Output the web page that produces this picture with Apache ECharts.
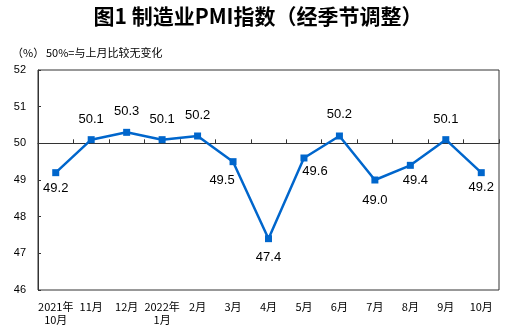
<!DOCTYPE html>
<html>
<head>
<meta charset="utf-8">
<script src="https://cdn.jsdelivr.net/npm/echarts@6/dist/echarts.min.js"></script>
<style>
html,body{margin:0;padding:0;background:#fff;}
#c{width:516px;height:326px;}
</style>
</head>
<body>
<div id="c"></div>
<script>
var categories = ['2021年\n10月','11月','12月','2022年\n1月','2月','3月','4月','5月','6月','7月','8月','9月','10月'];
var pmiValues = [49.2, 50.1, 50.3, 50.1, 50.2, 49.5, 47.4, 49.6, 50.2, 49.0, 49.4, 50.1, 49.2];
var yTicks = [46, 47, 48, 49, 50, 51, 52];
var labelPlacement = [
  ['bottom', 5.5, 0], ['top', 10, 0], ['top', 10.5, 0], ['top', 10, 0], ['top', 11, 0],
  ['bottom', 8.5, -11], ['bottom', 9, 0], ['bottom', 3.5, 11], ['top', 12, 0],
  ['bottom', 10, 0], ['bottom', 5, 5], ['top', 10.5, 0], ['bottom', 4.5, 0]
];

var chart = echarts.init(document.getElementById('c'), null, {renderer: 'canvas'});
var cjk = '"Noto Sans CJK SC", sans-serif';
var lat = '"Liberation Sans", Arial, sans-serif';

var seriesData = pmiValues.map(function (v, i) {
  var p = labelPlacement[i];
  return {value: v, label: {position: p[0], distance: p[1], offset: [p[2], 0]}};
});

chart.setOption({
  animation: false,
  backgroundColor: '#fff',
  title: {
    text: '图1 制造业PMI指数（经季节调整）',
    left: 'center',
    top: 1,
    textStyle: {fontFamily: cjk, fontSize: 21, fontWeight: 'bold', color: '#000'}
  },
  graphic: [
    {type: 'text', left: 12, top: 47, style: {text: '（%）', fontFamily: cjk, fontSize: 11, fill: '#000'}},
    {type: 'text', left: 46, top: 47, style: {text: '50%=与上月比较无变化', fontFamily: cjk, fontSize: 11, fill: '#000'}}
  ],
  grid: {left: 38, top: 70, right: 17, bottom: 36, show: true, borderColor: '#333', borderWidth: 1, backgroundColor: 'transparent'},
  xAxis: [
    {
      type: 'category', data: categories, position: 'bottom',
      axisLine: {show: false}, axisTick: {show: false},
      axisLabel: {interval: 0, margin: 10, fontFamily: cjk, fontSize: 11, lineHeight: 13, color: '#000'}
    },
    {
      type: 'category', data: categories, position: 'bottom', offset: -146.67,
      axisLine: {show: true, lineStyle: {color: '#333', width: 1}},
      axisTick: {show: true, inside: true, length: 4, interval: 0, lineStyle: {color: '#333'}},
      axisLabel: {show: false}
    }
  ],
  yAxis: {
    type: 'value', min: yTicks[0], max: yTicks[yTicks.length - 1], interval: 1,
    axisLine: {show: true, lineStyle: {color: '#333'}},
    axisTick: {show: true, inside: true, length: 3, lineStyle: {color: '#333'}},
    splitLine: {show: false},
    axisLabel: {margin: 12, fontFamily: lat, fontSize: 11, color: '#000'}
  },
  series: [{
    type: 'line', xAxisIndex: 0, data: seriesData,
    symbol: 'rect', symbolSize: 7,
    lineStyle: {color: '#0066CC', width: 2.5},
    itemStyle: {color: '#0066CC'},
    label: {show: true, fontFamily: lat, fontSize: 13, color: '#000',
      formatter: function (p) { return p.value.toFixed(1); }}
  }]
});
</script>
</body>
</html>
